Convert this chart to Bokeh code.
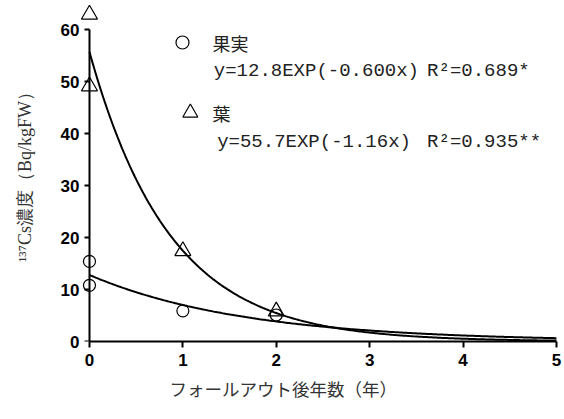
import numpy as np
from bokeh.plotting import figure
from bokeh.models import Label, Range1d, LinearAxis, Title, FixedTicker
from bokeh.embed import file_html
from bokeh.resources import INLINE

# ---- data ----
years_fruit = [0, 0, 1, 2]
cs_fruit = [15.4, 10.8, 5.9, 5.1]
years_leaf = [0, 0, 1, 2]
cs_leaf = [62.9, 49.1, 17.4, 5.8]

fruit_a, fruit_b = 12.8, 0.600
leaf_a, leaf_b = 55.7, 1.16

x_ticks = [0, 1, 2, 3, 4, 5]
y_ticks = [0, 10, 20, 30, 40, 50, 60]

fruit_label = "果実"
leaf_label = "葉"
fruit_eq = "y=12.8EXP(-0.600x)"
fruit_r2 = "R²=0.689*"
leaf_eq = "y=55.7EXP(-1.16x)"
leaf_r2 = "R²=0.935**"
x_title = "フォールアウト後年数（年）"
y_title = "¹³⁷Cs濃度（Bq/kgFW）"

p = figure(width=564, height=419, output_backend="svg", toolbar_location=None,
           x_range=Range1d(-0.096, 5.022), y_range=Range1d(0, 65.0),
           y_axis_location=None,
           min_border_left=80, min_border_right=6, min_border_top=3, min_border_bottom=78)
p.outline_line_color = None
p.grid.visible = False
p.background_fill_color = "white"

def style_labels(ax):
    ax.major_label_text_font = "Liberation Sans"
    ax.major_label_text_font_style = "bold"
    ax.major_label_text_font_size = "17px"
    ax.major_label_text_color = "black"
    ax.minor_tick_line_color = None

# x axis
xa = p.xaxis[0]
style_labels(xa)
xa.ticker = FixedTicker(ticks=x_ticks)
xa.bounds = (0, 5)
xa.axis_line_width = 2
xa.major_tick_line_width = 2
xa.major_tick_in = 0
xa.major_tick_out = 6
xa.major_label_standoff = 6

# y axis: labels at frame edge
ya = LinearAxis(ticker=FixedTicker(ticks=y_ticks))
style_labels(ya)
ya.axis_line_color = None
ya.major_tick_line_color = None
ya.major_tick_in = 0
ya.major_tick_out = 0
ya.major_label_standoff = 1
ya.axis_label = y_title
ya.axis_label_text_font = "Liberation Serif"
ya.axis_label_text_font_style = "normal"
ya.axis_label_text_font_size = "18px"
ya.axis_label_text_color = "#333333"
ya.axis_label_standoff = 23
p.add_layout(ya, "left")

# y axis line and ticks at x = 0
yl = LinearAxis(ticker=FixedTicker(ticks=y_ticks), fixed_location=0, bounds=(0, 60))
yl.axis_line_width = 2
yl.major_tick_line_width = 2
yl.major_tick_in = 0
yl.major_tick_out = 5
yl.minor_tick_line_color = None
yl.major_label_text_font_size = "1px"
yl.major_label_text_alpha = 0
p.add_layout(yl, "left")

# x title
p.add_layout(Title(text=x_title, align="left", offset=89, text_font="Noto Sans CJK JP",
                   text_font_size="17.5px", text_font_style="normal",
                   text_color="#333333"), "below")

# fitted curves
xs = np.linspace(0, 5, 300)
p.line(xs, fruit_a * np.exp(-fruit_b * xs), line_color="black", line_width=2)
p.line(xs, leaf_a * np.exp(-leaf_b * xs), line_color="black", line_width=2)

# points
p.scatter(years_fruit, cs_fruit, marker="circle", size=12, fill_alpha=0,
          line_color="black", line_width=1.2)
p.scatter(years_leaf, cs_leaf, marker="triangle", size=16, fill_alpha=0,
          line_color="black", line_width=1.2)

# legend-like annotation
p.scatter([0.996], [57.5], marker="circle", size=13, fill_alpha=0,
          line_color="black", line_width=1.2)
p.scatter([1.08], [44.0], marker="triangle", size=15, fill_alpha=0,
          line_color="black", line_width=1.2)

txt_col = "#222222"
def lab(x, y, text, font, size):
    p.add_layout(Label(x=x, y=y, text=text, text_font=font, text_font_size=size,
                       text_color=txt_col, text_baseline="middle", text_align="left"))

lab(1.317, 57.5, fruit_label, "Noto Sans CJK JP", "18px")
lab(1.331, 52.1, fruit_eq, "Liberation Mono", "19px")
lab(3.615, 52.1, fruit_r2, "Liberation Mono", "19px")
lab(1.317, 44.0, leaf_label, "Noto Sans CJK JP", "18px")
lab(1.367, 38.4, leaf_eq, "Liberation Mono", "19px")
lab(3.615, 38.4, leaf_r2, "Liberation Mono", "19px")

open("out.html", "w").write(file_html(p, INLINE))
